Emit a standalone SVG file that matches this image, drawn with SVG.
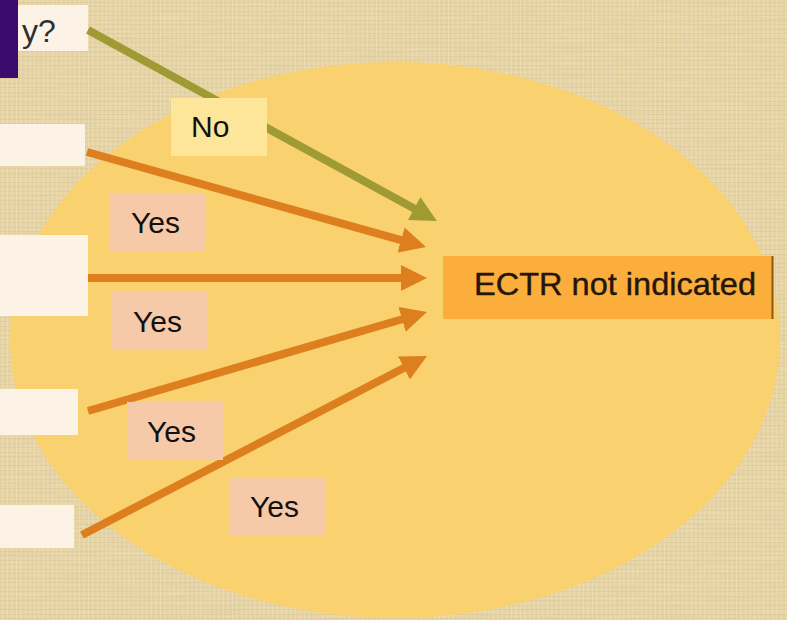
<svg xmlns="http://www.w3.org/2000/svg" width="787" height="620" viewBox="0 0 787 620">
  <style>
    .lbl { font-family: "Liberation Sans", Arial, sans-serif; font-size: 30px; fill: #111; }
    .src { fill: #fdf2e6; }
    .yes { fill: #f6c9a9; }
    .no { fill: #fde599; }
    .conn { fill: none; stroke-width: 8; stroke-linecap: butt; }
    .orange { stroke: #dd7f1f; }
    .olive { stroke: #a09a35; }
  </style>
  <defs>
    <pattern id="canvas" width="9" height="9" patternUnits="userSpaceOnUse">
      <rect width="9" height="9" fill="#e9d7a8"/>
      <path d="M0 2.5 H9 M0 6.5 H9" stroke="#d9c28e" stroke-width="1" opacity="0.5"/>
      <path d="M3 0 V9 M7.5 0 V9" stroke="#f3e6c4" stroke-width="1" opacity="0.6"/>
    </pattern>
    <filter id="grain" x="0" y="0" width="100%" height="100%">
      <feTurbulence type="fractalNoise" baseFrequency="0.02 0.35" numOctaves="2" seed="3" result="n"/>
      <feColorMatrix in="n" type="matrix" values="0 0 0 0 0.62  0 0 0 0 0.52  0 0 0 0 0.3  0 0 0 0.35 -0.05"/>
    </filter>
    <marker id="headO" viewBox="0 0 26 26" markerUnits="userSpaceOnUse" markerWidth="26" markerHeight="26" refX="1" refY="13" orient="auto">
      <path d="M0 0 L26 13 L0 26 Z" fill="#dd7f1f"/>
    </marker>
    <marker id="headG" viewBox="0 0 26 26" markerUnits="userSpaceOnUse" markerWidth="26" markerHeight="26" refX="1" refY="13" orient="auto">
      <path d="M0 0 L26 13 L0 26 Z" fill="#a09a35"/>
    </marker>
  </defs>

  <g id="background">
    <rect width="787" height="620" fill="url(#canvas)"/>
    <rect width="787" height="620" filter="url(#grain)"/>
    <ellipse cx="395" cy="340" rx="385" ry="278" fill="#f9d26f"/>
  </g>

  <g id="node-q1">
    <rect class="src" x="18" y="5" width="70" height="46"/>
    <text class="lbl" x="22" y="42" style="font-size:32px;fill:#2e2e2e">y?</text>
    <rect x="0" y="0" width="18" height="78" fill="#3d0b6e"/>
  </g>
  <g id="node-q2"><rect class="src" x="0" y="124" width="85" height="42"/></g>
  <g id="node-q3"><rect class="src" x="0" y="235" width="88" height="81"/></g>
  <g id="node-q4"><rect class="src" x="0" y="389" width="78" height="46"/></g>
  <g id="node-q5"><rect class="src" x="0" y="505" width="74" height="43"/></g>

  <g id="connectors">
    <line class="conn olive" x1="88" y1="30" x2="415" y2="209" marker-end="url(#headG)"/>
    <line class="conn orange" x1="87" y1="152" x2="402" y2="240.3" marker-end="url(#headO)"/>
    <line class="conn orange" x1="88" y1="278" x2="402" y2="278" marker-end="url(#headO)"/>
    <line class="conn orange" x1="88" y1="411" x2="403" y2="319" marker-end="url(#headO)"/>
    <line class="conn orange" x1="82" y1="535" x2="404.8" y2="367.5" marker-end="url(#headO)"/>
  </g>

  <g id="label-no">
    <rect class="no" x="171" y="98" width="96" height="58"/>
    <text class="lbl" x="191" y="137">No</text>
  </g>
  <g id="label-yes1">
    <rect class="yes" x="110" y="194" width="96" height="58"/>
    <text class="lbl" x="131" y="233">Yes</text>
  </g>
  <g id="label-yes2">
    <rect class="yes" x="112" y="292" width="96" height="57"/>
    <text class="lbl" x="133" y="332">Yes</text>
  </g>
  <g id="label-yes3">
    <rect class="yes" x="127" y="402" width="96" height="58"/>
    <text class="lbl" x="147" y="442">Yes</text>
  </g>
  <g id="label-yes4">
    <rect class="yes" x="230" y="477" width="96" height="58"/>
    <text class="lbl" x="250" y="517">Yes</text>
  </g>

  <g id="node-ectr">
    <rect x="443" y="256" width="330" height="63" fill="#fbae3c"/>
    <line x1="772.5" y1="256" x2="772.5" y2="319" stroke="#8a5a14" stroke-width="2"/>
    <text class="lbl" x="474" y="295" textLength="282" lengthAdjust="spacingAndGlyphs" style="font-size:32px;fill:#24160c;stroke:#24160c;stroke-width:0.4">ECTR not indicated</text>
  </g>
</svg>
